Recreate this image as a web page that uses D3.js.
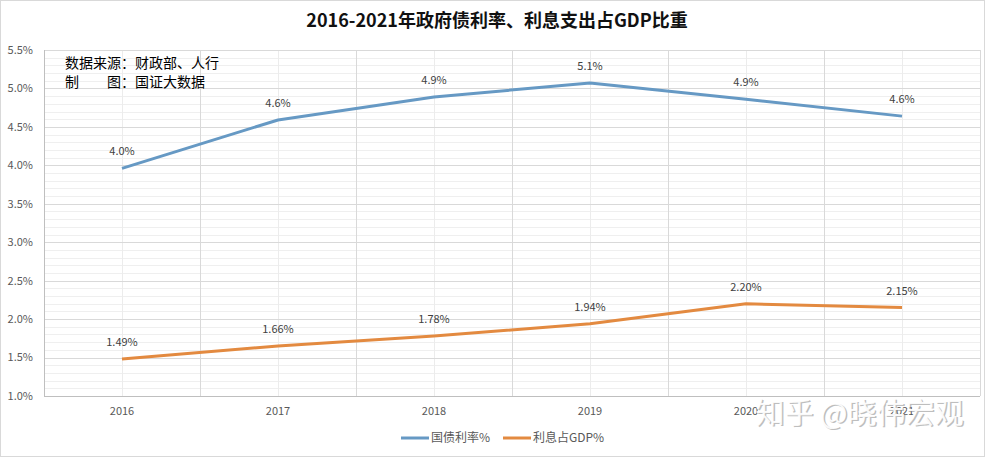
<!DOCTYPE html>
<html><head><meta charset="utf-8">
<script src="https://cdn.jsdelivr.net/npm/d3@7"></script>
<style>
body{margin:0;background:#fff;}
text{font-family:"Noto Sans CJK SC","Noto Sans",sans-serif;}
</style></head>
<body><svg id="c" width="995" height="458"></svg>
<script>
const years = ["2016","2017","2018","2019","2020","2021"];
const bondRate = [3.96, 4.59, 4.89, 5.07, 4.86, 4.64];
const bondLabels = ["4.0%","4.6%","4.9%","5.1%","4.9%","4.6%"];
const interestGdp = [1.48, 1.65, 1.78, 1.94, 2.20, 2.15];
const interestLabels = ["1.49%","1.66%","1.78%","1.94%","2.20%","2.15%"];
const yTicks = [1.0,1.5,2.0,2.5,3.0,3.5,4.0,4.5,5.0,5.5];
const seriesNames = ["国债利率%","利息占GDP%"];
const title = "2016-2021年政府债利率、利息支出占GDP比重";
const sourceLines = ["数据来源：财政部、人行","制　　图：国证大数据"];
const watermark = "知乎 @晓伟宏观";

const svg = d3.select("#c");
const m = {left:44,right:980,top:50,bottom:396};
const x = d3.scaleBand().domain(years).range([m.left,m.right]);
const y = d3.scaleLinear().domain([1.0,5.5]).range([m.bottom,m.top]);

svg.append("rect").attr("x",0.5).attr("y",0.5).attr("width",984).attr("height",456)
  .attr("fill","#fff").attr("stroke","#d9d9d9");

const minor = d3.range(10,56).map(v=>v/10).filter(v=>Math.abs(v*2-Math.round(v*2))>1e-6);
svg.append("g").selectAll("line").data(minor).join("line")
  .attr("x1",m.left).attr("x2",m.right).attr("y1",d=>Math.round(y(d))+0.5).attr("y2",d=>Math.round(y(d))+0.5)
  .attr("stroke","#efefef");
svg.append("g").selectAll("line").data(years).join("line")
  .attr("x1",d=>Math.round(x(d)+x.bandwidth()/2)+0.5).attr("x2",d=>Math.round(x(d)+x.bandwidth()/2)+0.5)
  .attr("y1",m.top).attr("y2",m.bottom).attr("stroke","#ececec");
svg.append("g").selectAll("line").data(yTicks).join("line")
  .attr("x1",m.left).attr("x2",m.right).attr("y1",d=>Math.round(y(d))+0.5).attr("y2",d=>Math.round(y(d))+0.5)
  .attr("stroke","#d9d9d9");
svg.append("g").selectAll("line").data(years).join("line")
  .attr("x1",d=>Math.round(x(d)+x.bandwidth())+0.5).attr("x2",d=>Math.round(x(d)+x.bandwidth())+0.5)
  .attr("y1",m.top).attr("y2",m.bottom).attr("stroke","#d9d9d9");
svg.append("line").attr("x1",m.left+0.5).attr("x2",m.left+0.5).attr("y1",m.top).attr("y2",m.bottom).attr("stroke","#bfbfbf");
svg.append("line").attr("x1",m.left).attr("x2",m.right).attr("y1",m.bottom+0.5).attr("y2",m.bottom+0.5).attr("stroke","#bfbfbf");

svg.append("g").selectAll("text").data(yTicks).join("text")
  .attr("x",33).attr("y",d=>y(d)).attr("dy","0.35em").attr("text-anchor","end")
  .attr("font-size",11).attr("fill","#595959").text(d=>d.toFixed(1)+"%");
svg.append("g").selectAll("text").data(years).join("text")
  .attr("x",d=>x(d)+x.bandwidth()/2).attr("y",411).attr("dy","0.35em").attr("text-anchor","middle")
  .attr("font-size",11).attr("fill","#595959").text(d=>d);

const colors = ["#6699c4","#e38a40"];
const line = d3.line().x((d,i)=>x(years[i])+x.bandwidth()/2).y(d=>y(d));
[bondRate,interestGdp].forEach((s,k)=>{
  svg.append("path").datum(s).attr("d",line).attr("fill","none")
    .attr("stroke",colors[k]).attr("stroke-width",3).attr("stroke-linejoin","round");
});
[[bondRate,bondLabels],[interestGdp,interestLabels]].forEach(([s,l])=>{
  svg.append("g").selectAll("text").data(s).join("text")
    .attr("x",(d,i)=>x(years[i])+x.bandwidth()/2).attr("y",d=>y(d)-13)
    .attr("text-anchor","middle").attr("font-size",11).attr("fill","#404040")
    .text((d,i)=>l[i]);
});

svg.append("text").attr("x",497).attr("y",21).attr("dy","0.35em").attr("text-anchor","middle")
  .attr("font-size",18).attr("font-weight","bold").attr("fill","#111").text(title);

svg.append("g").selectAll("text").data(sourceLines).join("text")
  .attr("x",65).attr("y",(d,i)=>63+i*19).attr("dy","0.35em")
  .attr("font-size",14).attr("fill","#000").text(d=>d);

const leg = [{x:401,name:seriesNames[0],c:colors[0]},{x:503,name:seriesNames[1],c:colors[1]}];
leg.forEach(l=>{
  svg.append("line").attr("x1",l.x).attr("x2",l.x+28).attr("y1",438).attr("y2",438).attr("stroke",l.c).attr("stroke-width",3);
  svg.append("text").attr("x",l.x+30).attr("y",438).attr("dy","0.35em").attr("font-size",12).attr("fill","#595959").text(l.name);
});

svg.append("text").attr("x",757).attr("y",425).attr("font-size",29).attr("fill","#8a8a8a").attr("opacity",0.55).text(watermark);
svg.append("text").attr("x",755.5).attr("y",423.5).attr("font-size",29).attr("fill","#ffffff").attr("opacity",0.92).text(watermark);
</script></body></html>
